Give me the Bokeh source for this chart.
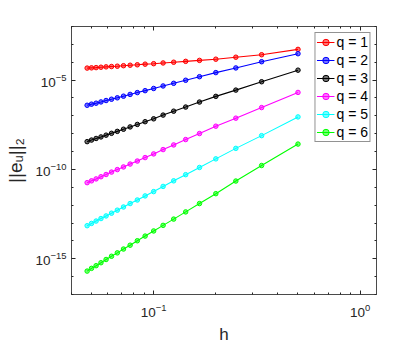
from bokeh.plotting import figure
from bokeh.models import (Range1d, FixedTicker, CustomJSTickFormatter, LogTickFormatter,
                          LogAxis, Legend, LegendItem)
from bokeh.embed import file_html
from bokeh.resources import INLINE

# step sizes h = 1/N, N = 2..21
h = [0.5, 0.3333, 0.25, 0.2, 0.1667, 0.1429, 0.125, 0.1111, 0.1, 0.09091,
     0.08333, 0.07692, 0.07143, 0.06667, 0.0625, 0.05882, 0.05556, 0.05263, 0.05, 0.04762]

err_q1 = [5.25e-4, 2.63e-4, 1.91e-4, 1.48e-4, 1.27e-4, 1.12e-4, 1.00e-4, 9.1e-5, 8.3e-5, 7.8e-5,
          7.2e-5, 6.8e-5, 6.4e-5, 6.0e-5, 5.75e-5, 5.5e-5, 5.25e-5, 5.0e-5, 4.85e-5, 4.7e-5]
err_q2 = [3.0e-4, 1.07e-4, 4.8e-5, 2.63e-5, 1.55e-5, 9.8e-6, 6.6e-6, 4.7e-6, 3.4e-6, 2.57e-6,
          2.0e-6, 1.58e-6, 1.26e-6, 1.02e-6, 8.5e-7, 7.2e-7, 6.0e-7, 5.1e-7, 4.5e-7, 3.9e-7]
err_q3 = [3.6e-5, 8.1e-6, 2.75e-6, 1.23e-6, 5.9e-7, 3.1e-7, 1.82e-7, 1.10e-7, 6.8e-8, 4.7e-8,
          3.3e-8, 2.4e-8, 1.78e-8, 1.35e-8, 1.05e-8, 8.3e-9, 6.6e-9, 5.4e-9, 4.4e-9, 3.6e-9]
err_q4 = [2.04e-6, 2.9e-7, 7.4e-8, 2.63e-8, 1.02e-8, 4.7e-9, 2.35e-9, 1.29e-9, 7.4e-10, 4.6e-10,
          2.95e-10, 2.0e-10, 1.38e-10, 9.8e-11, 7.1e-11, 5.2e-11, 3.9e-11, 2.95e-11, 2.3e-11, 1.82e-11]
err_q5 = [8.7e-8, 7.8e-9, 1.51e-9, 3.9e-10, 1.29e-10, 5.1e-11, 2.3e-11, 1.12e-11, 5.75e-12, 3.3e-12,
          1.95e-12, 1.23e-12, 7.9e-13, 5.25e-13, 3.55e-13, 2.5e-13, 1.78e-13, 1.29e-13, 9.5e-14, 7.1e-14]
err_q6 = [2.63e-9, 1.66e-10, 2.24e-11, 4.4e-12, 1.23e-12, 4.2e-13, 1.66e-13, 7.4e-14, 3.6e-14, 1.86e-14,
          1.02e-14, 5.75e-15, 3.5e-15, 2.14e-15, 1.38e-15, 9.1e-16, 6.0e-16, 4.1e-16, 2.9e-16, 2.04e-16]

series = [err_q1, err_q2, err_q3, err_q4, err_q5, err_q6]
labels = ["q = 1", "q = 2", "q = 3", "q = 4", "q = 5", "q = 6"]
colors = ["#ff0000", "#0000ff", "#000000", "#ff00ff", "#00ffff", "#00ff00"]

x_major = [0.1, 1.0]
x_minor = [0.04, 0.05, 0.06, 0.07, 0.08, 0.09, 0.2, 0.3, 0.4, 0.5, 0.6, 0.7, 0.8, 0.9]
y_major = [1e-15, 1e-10, 1e-5]
y_minor = [1e-17, 1e-16, 1e-14, 1e-13, 1e-12, 1e-11, 1e-9, 1e-8, 1e-7, 1e-6, 1e-4, 1e-3, 1e-2]

FONT = "Liberation Sans"
AX = "#262626"

p = figure(width=415, height=346, x_axis_type="log", y_axis_type="log",
           x_range=Range1d(0.04, 1.2), y_range=Range1d(1e-17, 1e-2),
           output_backend="svg", toolbar_location=None,
           min_border_left=71, min_border_right=39, min_border_top=26, min_border_bottom=51)
p.background_fill_color = "white"
p.border_fill_color = "white"
p.xgrid.visible = False
p.ygrid.visible = False
p.outline_line_color = AX
p.outline_line_width = 0.6

blank = CustomJSTickFormatter(code="return '';")


def style(ax, ticker, formatter):
    ax.ticker = ticker
    ax.formatter = formatter
    ax.axis_line_color = AX
    ax.axis_line_width = 0.6
    ax.major_tick_line_color = AX
    ax.minor_tick_line_color = AX
    ax.major_tick_in = 4
    ax.major_tick_out = 0
    ax.minor_tick_in = 2
    ax.minor_tick_out = 0
    ax.major_label_text_font = FONT
    ax.major_label_text_font_size = "13.5px"
    ax.major_label_text_color = AX
    ax.axis_label_text_font = FONT
    ax.axis_label_text_font_style = "normal"
    ax.axis_label_text_color = AX


style(p.xaxis[0], FixedTicker(ticks=x_major, minor_ticks=x_minor), LogTickFormatter())
style(p.yaxis[0], FixedTicker(ticks=y_major, minor_ticks=y_minor), LogTickFormatter())
p.xaxis[0].axis_label = "h"
p.xaxis[0].axis_label_text_font_size = "17px"
p.xaxis[0].major_label_standoff = 9
p.xaxis[0].axis_label_standoff = 5
p.yaxis[0].axis_label = "||e\u1d64||\u2082"
p.yaxis[0].axis_label_text_font_size = "19px"
p.yaxis[0].major_label_standoff = 5
p.yaxis[0].axis_label_standoff = 6

top = LogAxis()
right = LogAxis()
style(top, FixedTicker(ticks=x_major, minor_ticks=x_minor), blank)
style(right, FixedTicker(ticks=y_major, minor_ticks=y_minor), blank)
top.major_label_text_font_size = "0px"
right.major_label_text_font_size = "0px"
top.major_label_standoff = 0
right.major_label_standoff = 0
p.add_layout(top, "above")
p.add_layout(right, "right")

items = []
for ys, lab, c in zip(series, labels, colors):
    r1 = p.line(h, ys, line_color=c, line_width=1.1)
    r2 = p.scatter(h, ys, marker="circle", size=4.5, line_color=c, fill_color=c,
                   fill_alpha=0.55, line_width=1)
    items.append(LegendItem(label=lab, renderers=[r1, r2]))

leg = Legend(items=items, location="top_right")
leg.margin = 6
leg.padding = 1
leg.spacing = 2
leg.glyph_width = 18
leg.glyph_height = 16
leg.label_height = 16
leg.label_width = 10
leg.label_standoff = 2
leg.label_text_font = FONT
leg.label_text_font_size = "14px"
leg.label_text_color = "#000000"
leg.border_line_color = AX
leg.border_line_width = 0.6
leg.background_fill_color = "white"
leg.background_fill_alpha = 1.0
p.add_layout(leg, "center")

open("out.html", "w").write(file_html(p, INLINE))
